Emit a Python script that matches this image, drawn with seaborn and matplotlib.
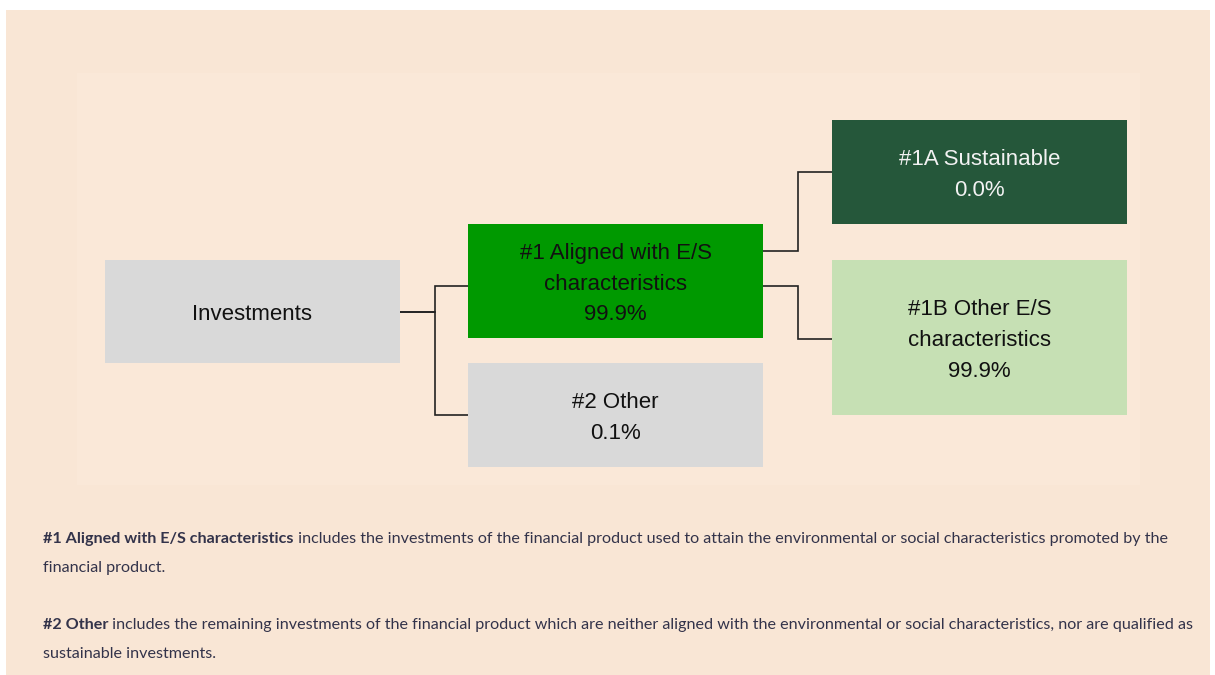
import matplotlib.pyplot as plt
import seaborn as sns

# ---- data ----
node_names = ['Investments', '#1 Aligned with E/S\ncharacteristics', '#2 Other',
              '#1A Sustainable', '#1B Other E/S\ncharacteristics']
node_values = [None, 99.9, 0.1, 0.0, 99.9]
parents = [None, 0, 0, 1, 1]

footnote_bold = ['#1 Aligned with E/S characteristics', '#2 Other']
footnote_rest = [
    [' includes the investments of the financial product used to attain the environmental or social characteristics promoted by the',
     'financial product.'],
    [' includes the remaining investments of the financial product which are neither aligned with the environmental or social characteristics, nor are qualified as',
     'sustainable investments.'],
]

# ---- layout / style (pixel frame) ----
box_x = [105, 468, 468, 832, 832]
box_y = [260, 224, 363, 120, 260]
box_w = [295, 295, 295, 295, 295]
box_h = [103, 114, 104, 104, 155]
box_col = ['#d9d9d9', '#009900', '#d9d9d9', '#25573a', '#c6e0b4']
txt_col = ['#111111', '#111111', '#111111', '#f2f2f2', '#111111']
# connector attach heights (y on parent side, y on child side)
out_y = [None, 312, 312, 251, 286]
in_y = [None, 286, 415, 172, 339]
elbow_x = [None, 435, 435, 798, 798]

sns.set_theme(style='white')
plt.rcParams['font.family'] = ['Liberation Sans', 'DejaVu Sans']

fig = plt.figure(figsize=(12.15, 6.75), dpi=100, facecolor='white')
ax = fig.add_axes([0, 0, 1, 1])
ax.set_xlim(0, 1215)
ax.set_ylim(675, 0)
ax.axis('off')

# page background + panel
ax.bar(6, 665, width=1204, bottom=10, align='edge', color='#f9e6d5',
       edgecolor='none', linewidth=0, zorder=0)
ax.bar(77, 412, width=1063, bottom=73, align='edge', color='#fae8d8',
       edgecolor='none', linewidth=0, zorder=0.5)

# boxes
ax.bar(box_x, box_h, width=box_w, bottom=box_y, align='edge', color=box_col,
       edgecolor='none', linewidth=0, zorder=2)

for i, name in enumerate(node_names):
    label = name if node_values[i] is None else f'{name}\n{node_values[i]:.1f}%'
    ax.text(box_x[i] + box_w[i] / 2, box_y[i] + box_h[i] / 2 + 3, label,
            ha='center', va='center', fontsize=16, color=txt_col[i],
            linespacing=1.6, zorder=3, family=['Liberation Sans', 'DejaVu Sans'])

# elbow connectors
for i, p in enumerate(parents):
    if p is None:
        continue
    x0 = box_x[p] + box_w[p]
    x1 = box_x[i]
    ax.plot([x0, elbow_x[i], elbow_x[i], x1], [out_y[i], out_y[i], in_y[i], in_y[i]],
            color='#222222', lw=1.2, zorder=1.5, solid_joinstyle='miter')

# footnotes: bold lead + regular text
fig.canvas.draw()
renderer = fig.canvas.get_renderer()
foot_y = [539, 625]
for k in range(2):
    t = ax.text(43, foot_y[k], footnote_bold[k], fontsize=11.6, fontweight='bold',
                color='#33334a', va='center', family='Lato')
    bb = t.get_window_extent(renderer=renderer)
    x_end = ax.transData.inverted().transform((bb.x1, bb.y0))[0]
    ax.text(x_end, foot_y[k], footnote_rest[k][0], fontsize=11.6, color='#33334a',
            va='center', family='Lato')
    ax.text(43, foot_y[k] + 29, footnote_rest[k][1], fontsize=11.6, color='#33334a',
            va='center', family='Lato')

fig.savefig('out.png', dpi=100, facecolor='white')
